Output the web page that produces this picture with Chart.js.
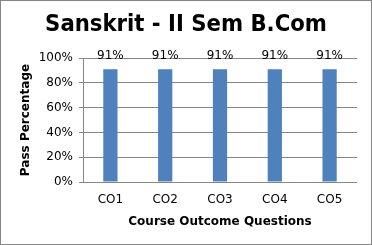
<!DOCTYPE html>
<html>
<head>
<meta charset="utf-8">
<script src="https://cdn.jsdelivr.net/npm/chart.js@4"></script>
<style>
    body { margin: 0; background: #fff; }
    #box { width: 372px; height: 245px; box-sizing: border-box; border: 1px solid #868686; }
</style>
</head>
<body>
<div id="box"><canvas id="myChart" width="370" height="243"></canvas></div>
<script>
// Data chart
const categories = ['CO1', 'CO2', 'CO3', 'CO4', 'CO5'];
const passValues = [91, 91, 91, 91, 91];
const yTicks = [0, 20, 40, 60, 80, 100];

const gridColor = '#868686';

// Label nilai di atas bar
const valueLabels = {
    id: 'valueLabels',
    afterDatasetsDraw(chart) {
        const ctx = chart.ctx;
        const meta = chart.getDatasetMeta(0);
        ctx.save();
        ctx.font = '12px "DejaVu Sans"';
        ctx.fillStyle = '#000';
        ctx.textAlign = 'center';
        ctx.textBaseline = 'alphabetic';
        meta.data.forEach((bar, i) => {
            ctx.fillText(passValues[i] + '%', bar.x, bar.y - 10.5);
        });
        ctx.restore();
    }
};

const ctx = document.getElementById('myChart').getContext('2d');
const myChart = new Chart(ctx, {
    type: 'bar',
    data: {
        labels: categories,
        datasets: [{
            label: 'Pass Percentage',
            data: passValues,
            backgroundColor: '#4F81BD',
            categoryPercentage: 1,
            barPercentage: 0.26
        }]
    },
    options: {
        responsive: false,
        animation: false,
        layout: {
            padding: { left: 14, right: 14, top: 0, bottom: 9 }
        },
        plugins: {
            legend: { display: false },
            tooltip: { enabled: false },
            title: {
                display: true,
                text: 'Sanskrit - II Sem B.Com',
                color: '#000',
                font: { family: '"DejaVu Sans Condensed", "Liberation Sans Narrow", "DejaVu Sans"', size: 23.6, weight: 'bold' },
                padding: { top: 9.2, bottom: 19.5 }
            }
        },
        scales: {
            y: {
                min: 0,
                max: 100,
                afterBuildTicks: (scale) => {
                    scale.ticks = yTicks.map(v => ({ value: v }));
                },
                afterFit: (scale) => {
                    scale.width = 68;
                },
                border: { display: true, color: gridColor, width: 1 },
                grid: { color: gridColor, tickLength: 4, drawTicks: true },
                ticks: {
                    padding: 6,
                    color: '#000',
                    font: { family: '"DejaVu Sans"', size: 12 },
                    callback: (v) => v + '%'
                },
                title: {
                    display: true,
                    text: 'Pass Percentage',
                    color: '#000',
                    font: { family: '"DejaVu Sans"', size: 12, weight: 'bold' },
                    padding: { top: 3.8, bottom: 0 }
                }
            },
            x: {
                afterFit: (scale) => {
                    scale.height = 53;
                },
                border: { display: false },
                grid: { display: false, drawTicks: false },
                ticks: {
                    padding: 10.8,
                    color: '#000',
                    font: { family: '"DejaVu Sans"', size: 12 }
                },
                title: {
                    display: true,
                    text: 'Course Outcome Questions',
                    color: '#000',
                    font: { family: '"DejaVu Sans"', size: 12, weight: 'bold' },
                    padding: { top: 0, bottom: 6.3 }
                }
            }
        }
    },
    plugins: [valueLabels]
});
</script>
</body>
</html>
